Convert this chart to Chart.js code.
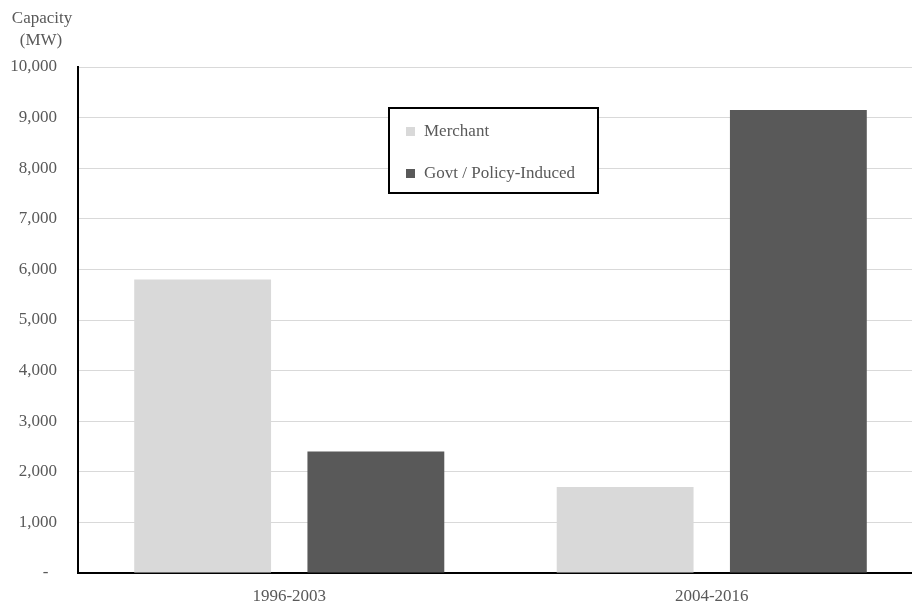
<!DOCTYPE html>
<html>
<head>
<meta charset="utf-8">
<script src="https://cdn.jsdelivr.net/npm/chart.js@4"></script>
<style>
  html, body { margin: 0; padding: 0; background: #fff; overflow: hidden; }
  #wrap { width: 923px; height: 601px; }
</style>
</head>
<body>
<div id="wrap"><canvas id="myChart" width="923" height="601"></canvas></div>
<script>
// Capacity added by period (MW)
const periods = ['1996-2003', '2004-2016'];
const merchant = [5800, 1700];
const policyInduced = [2400, 9150];
const yTicks = [0, 1000, 2000, 3000, 4000, 5000, 6000, 7000, 8000, 9000, 10000];

const FONT = 'Liberation Serif, Times New Roman, serif';
const TEXT = '#595959';
const SIZE = 17;

// Boxed legend sitting inside the plot, plus the unit caption above the axis
const extras = {
    id: 'extras',
    afterDraw(chart) {
        const ctx = chart.ctx;
        ctx.save();
        ctx.font = SIZE + 'px ' + FONT;
        ctx.fillStyle = TEXT;
        ctx.textAlign = 'center';
        ctx.textBaseline = 'middle';
        ctx.fillText('Capacity', 42, 19);
        ctx.fillText('(MW)', 41, 41);

        // legend box
        const bx = 389, by = 108, bw = 209, bh = 85;
        ctx.fillStyle = '#fff';
        ctx.fillRect(bx, by, bw, bh);
        ctx.strokeStyle = '#000';
        ctx.lineWidth = 2;
        ctx.strokeRect(bx, by, bw, bh);
        ctx.textAlign = 'left';
        chart.data.datasets.forEach((ds, i) => {
            const y = by + 23 + i * 42;
            ctx.fillStyle = ds.backgroundColor;
            ctx.fillRect(bx + 17, y - 4, 9, 9);
            ctx.fillStyle = TEXT;
            ctx.fillText(ds.label, bx + 35, y + 1);
        });
        ctx.restore();
    }
};

const ctx = document.getElementById('myChart').getContext('2d');
new Chart(ctx, {
    type: 'bar',
    data: {
        labels: periods,
        datasets: [
            { label: 'Merchant', data: merchant, backgroundColor: '#d9d9d9' },
            { label: 'Govt / Policy-Induced', data: policyInduced, backgroundColor: '#595959' }
        ]
    },
    options: {
        responsive: false,
        animation: false,
        layout: { padding: { top: 67, left: 0, right: 0, bottom: 0 } },
        datasets: {
            bar: { categoryPercentage: 0.82, barPercentage: 0.79 }
        },
        scales: {
            x: {
                grid: { display: false },
                border: { color: '#000', width: 2 },
                ticks: { color: TEXT, font: { family: FONT, size: SIZE }, padding: 5 },
                afterFit: (scale) => { scale.height = 28; }
            },
            y: {
                min: 0,
                max: 10000,
                afterBuildTicks: (scale) => { scale.ticks = yTicks.map(v => ({ value: v })); },
                afterFit: (scale) => {
                    scale.width = 78;
                    // don't let label overhang push the plot area in
                    scale.paddingTop = 0;
                    scale.paddingBottom = 0;
                },
                grid: { color: '#d9d9d9', lineWidth: 1, drawTicks: false },
                border: { color: '#000', width: 2 },
                ticks: {
                    color: TEXT,
                    font: { family: FONT, size: SIZE },
                    padding: 21,
                    callback: (v) => v === 0 ? '-  ' : v.toLocaleString('en-US')
                }
            }
        },
        plugins: {
            legend: { display: false },
            tooltip: { enabled: false }
        }
    },
    plugins: [extras]
});
</script>
</body>
</html>
